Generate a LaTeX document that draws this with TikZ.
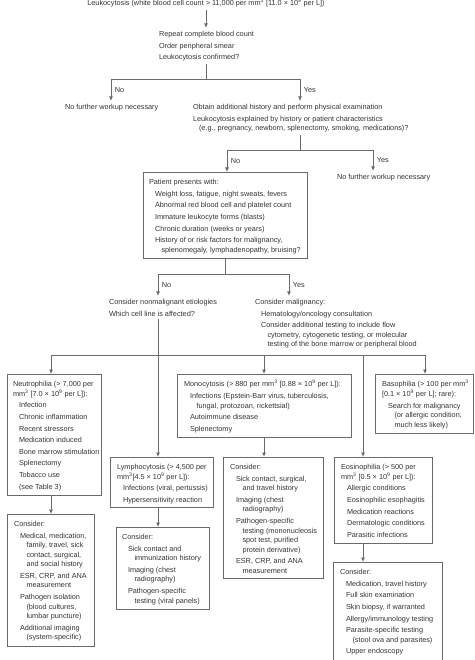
\documentclass[tikz,border=0pt]{standalone}
\usepackage{fontspec}
\setmainfont{Liberation Sans}
\usetikzlibrary{arrows.meta}
\definecolor{txt}{HTML}{333333}
\definecolor{ln}{HTML}{6A6A6A}
\newcommand\IndA{\hspace*{6pt}}
\newcommand\IndB{\hspace*{12.5pt}}
\newcommand\Fs{\rule{0pt}{6.3pt}}
\newcommand\Sq{\textsuperscript{3}}
\newcommand\Nn{\textsuperscript{9}}
\begin{document}
\begin{tikzpicture}[x=1pt,y=-1pt,
  every node/.style={font=\fontsize{7.3}{9.5}\selectfont, text=txt},
  freetext/.style={align=left, anchor=north west, inner sep=0pt, outer xsep=0pt, outer ysep=2.5pt},
  intext/.style={align=left, anchor=north west, inner sep=0pt, outer sep=0pt},
  boxnode/.style={draw=ln, line width=0.8pt, anchor=north west, inner sep=0pt},
  conn/.style={draw=ln, line width=0.8pt},
  arr/.style={conn, -{Latex[length=4.5pt,width=4pt]}},
  lbl/.style={anchor=west, inner sep=0pt, xshift=3.5pt}]
\useasboundingbox (0,0) rectangle (474,660);

% ---- top free text ----
\node[freetext, anchor=north] (n0) at (206,-3.1)
  {\Fs Leukocytosis (white blood cell count > 11,000 per mm\Sq{} [11.0 × 10\Nn{} per L])};
\node[freetext] (n1) at (159,27.9)
  {\Fs Repeat complete blood count\\[2.1pt]
   Order peripheral smear\\[2.1pt]
   Leukocytosis confirmed?};
\node[freetext] (n2) at (65,100.9) {\Fs No further workup necessary};
\node[freetext] (n3) at (193,100.9)
  {\Fs Obtain additional history and perform physical examination\\[2.1pt]
   Leukocytosis explained by history or patient characteristics\\
   \IndA(e.g., pregnancy, newborn, splenectomy, smoking, medications)?};
\node[freetext] (n4) at (337,170.9) {\Fs No further workup necessary};

% ---- patient box ----
\node[boxnode, minimum width=164pt, minimum height=86pt] (pat) at (143,172) {};
\node[intext] (patT) at (149,178.4)
  {\Fs Patient presents with:\\[2.1pt]
   \IndA Weight loss, fatigue, night sweats, fevers\\[2.1pt]
   \IndA Abnormal red blood cell and platelet count\\[2.1pt]
   \IndA Immature leukocyte forms (blasts)\\[2.1pt]
   \IndA Chronic duration (weeks or years)\\[2.1pt]
   \IndA History of or risk factors for malignancy,\\
   \IndB splenomegaly, lymphadenopathy, bruising?};

\node[freetext] (n6) at (109,295.9)
  {\Fs Consider nonmalignant etiologies\\[2.1pt]
   Which cell line is affected?};
\node[freetext] (n7) at (255,295.9)
  {\Fs Consider malignancy:\\[2.1pt]
   \IndA Hematology/oncology consultation\\[2.1pt]
   \IndA Consider additional testing to include flow\\
   \IndB cytometry, cytogenetic testing, or molecular\\
   \IndB testing of the bone marrow or peripheral blood};

% ---- cell line boxes ----
\node[boxnode, minimum width=94pt, minimum height=121pt] (neu) at (7,374) {};
\node[intext] (neuT) at (13,380.4)
  {\Fs Neutrophilia (> 7,000 per\\
   mm\Sq{} [7.0 × 10\Nn{} per L]):\\[2.1pt]
   \IndA Infection\\[2.1pt]
   \IndA Chronic inflammation\\[2.1pt]
   \IndA Recent stressors\\[2.1pt]
   \IndA Medication induced\\[2.1pt]
   \IndA Bone marrow stimulation\\[2.1pt]
   \IndA Splenectomy\\[2.1pt]
   \IndA Tobacco use\\[2.1pt]
   \IndA (see Table 3)};

\node[boxnode, minimum width=174pt, minimum height=63pt] (mono) at (177,374) {};
\node[intext] (monoT) at (184,380.4)
  {\Fs Monocytosis (> 880 per mm\Sq{} [0.88 × 10\Nn{} per L]):\\[2.1pt]
   \IndA Infections (Epstein-Barr virus, tuberculosis,\\
   \IndB fungal, protozoan, rickettsial)\\[2.1pt]
   \IndA Autoimmune disease\\[2.1pt]
   \IndA Splenectomy};

\node[boxnode, minimum width=98pt, minimum height=59pt] (baso) at (375,374) {};
\node[intext] (basoT) at (382,380.4)
  {\Fs Basophilia (> 100 per mm\Sq\\
   {[}0.1 × 10\Nn{} per L]; rare):\\[2.1pt]
   \IndA Search for malignancy\\
   \IndB (or allergic condition,\\
   \IndB much less likely)};

\node[boxnode, minimum width=103pt, minimum height=50pt] (lym) at (110,457) {};
\node[intext] (lymT) at (117,463.4)
  {\Fs Lymphocytosis (> 4,500 per\\
   mm\Sq{}[4.5 × 10\Nn{} per L]):\\[2.1pt]
   \IndA Infections (viral, pertussis)\\[2.1pt]
   \IndA Hypersensitivity reaction};

\node[boxnode, minimum width=98pt, minimum height=86pt] (eos) at (334,457) {};
\node[intext] (eosT) at (341,463.4)
  {\Fs Eosinophilia (> 500 per\\
   mm\Sq{} [0.5 × 10\Nn{} per L]):\\[2.1pt]
   \IndA Allergic conditions\\[2.1pt]
   \IndA Eosinophilic esophagitis\\[2.1pt]
   \IndA Medication reactions\\[2.1pt]
   \IndA Dermatologic conditions\\[2.1pt]
   \IndA Parasitic infections};

% ---- consider boxes ----
\node[boxnode, minimum width=87pt, minimum height=132pt] (neuC) at (7,514) {};
\node[intext] (neuCT) at (14,520.4)
  {\Fs Consider:\\[2.1pt]
   \IndA Medical, medication,\\
   \IndB family, travel, sick\\
   \IndB contact, surgical,\\
   \IndB and social history\\[2.1pt]
   \IndA ESR, CRP, and ANA\\
   \IndB measurement\\[2.1pt]
   \IndA Pathogen isolation\\
   \IndB (blood cultures,\\
   \IndB lumbar puncture)\\[2.1pt]
   \IndA Additional imaging\\
   \IndB (system-specific)};

\node[boxnode, minimum width=93pt, minimum height=82pt] (lymC) at (116,527) {};
\node[intext] (lymCT) at (122,533.4)
  {\Fs Consider:\\[2.1pt]
   \IndA Sick contact and\\
   \IndB immunization history\\[2.1pt]
   \IndA Imaging (chest\\
   \IndB radiography)\\[2.1pt]
   \IndA Pathogen-specific\\
   \IndB testing (viral panels)};

\node[boxnode, minimum width=100pt, minimum height=121pt] (monoC) at (223,457) {};
\node[intext] (monoCT) at (230,463.4)
  {\Fs Consider:\\[2.1pt]
   \IndA Sick contact, surgical,\\
   \IndB and travel history\\[2.1pt]
   \IndA Imaging (chest\\
   \IndB radiography)\\[2.1pt]
   \IndA Pathogen-specific\\
   \IndB testing (mononucleosis\\
   \IndB spot test, purified\\
   \IndB protein derivative)\\[2.1pt]
   \IndA ESR, CRP, and ANA\\
   \IndB measurement};

\node[boxnode, minimum width=109pt, minimum height=104pt] (eosC) at (333,562) {};
\node[intext] (eosCT) at (340,568.4)
  {\Fs Consider:\\[2.1pt]
   \IndA Medication, travel history\\[2.1pt]
   \IndA Full skin examination\\[2.1pt]
   \IndA Skin biopsy, if warranted\\[2.1pt]
   \IndA Allergy/immunology testing\\[2.1pt]
   \IndA Parasite-specific testing\\
   \IndB (stool ova and parasites)\\[2.1pt]
   \IndA Upper endoscopy};

% ---- junction coordinates ----
\coordinate (j1) at (206,79);
\coordinate (j1L) at (111,79);
\coordinate (j1R) at (300,79);
\coordinate (j2) at (300,150);
\coordinate (j2L) at (227,150);
\coordinate (j2R) at (373,150);
\coordinate (j3) at (225,274);
\coordinate (j3L) at (158,274);
\coordinate (j3R) at (289,274);
\coordinate (j4L) at (51,355);
\coordinate (j4M) at (264,355);
\coordinate (j4E) at (363,355);
\coordinate (j4R) at (425,355);

% ---- connectors ----
\draw[arr] (n0.south) -- (n0.south |- n1.north);
\draw[conn] (j1 |- n1.south) -- (j1);
\draw[conn] (j1L) -- (j1R);
\draw[arr] (j1L) -- node[lbl] {No} (j1L |- n2.north);
\draw[arr] (j1R) -- node[lbl] {Yes} (j1R |- n3.north);

\draw[conn] (j2 |- n3.south) -- (j2);
\draw[conn] (j2L) -- (j2R);
\draw[arr] (j2L) -- node[lbl] {No} (j2L |- pat.north);
\draw[arr] (j2R) -- node[lbl] {Yes} (j2R |- n4.north);

\draw[conn] (j3 |- pat.south) -- (j3);
\draw[conn] (j3L) -- (j3R);
\draw[arr] (j3L) -- node[lbl] {No} (j3L |- n6.north);
\draw[arr] (j3R) -- node[lbl] {Yes} (j3R |- n7.north);

\draw[arr] (j3L |- n6.south) -- (j3L |- lym.north);
\draw[conn] (j4L) -- (j4R);
\draw[arr] (j4L) -- (j4L |- neu.north);
\draw[arr] (j4M) -- (j4M |- mono.north);
\draw[arr] (j4E) -- (j4E |- eos.north);
\draw[arr] (j4R) -- (j4R |- baso.north);

\draw[arr] (j4L |- neu.south) -- (j4L |- neuC.north);
\draw[arr] (j3L |- lym.south) -- (j3L |- lymC.north);
\draw[arr] (j4M |- mono.south) -- (j4M |- monoC.north);
\draw[arr] (j4E |- eos.south) -- (j4E |- eosC.north);
\end{tikzpicture}
\end{document}
